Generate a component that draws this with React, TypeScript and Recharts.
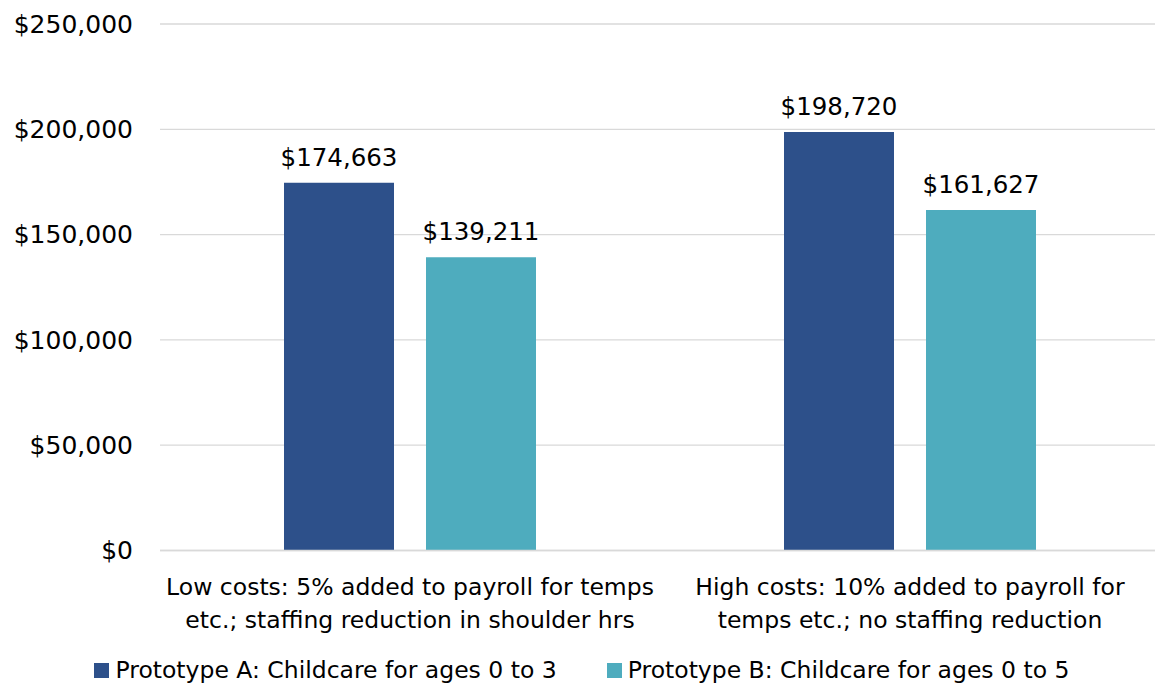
import React from 'react';
import { BarChart, Bar, XAxis, YAxis, CartesianGrid, LabelList, Legend } from 'recharts';

const categoryKeys = ['low', 'high'];
const categoryLines = [
  ['Low costs: 5% added to payroll for temps', 'etc.; staffing reduction in shoulder hrs'],
  ['High costs: 10% added to payroll for', 'temps etc.; no staffing reduction'],
];
const prototypeA = [174663, 198720];
const prototypeB = [139211, 161627];
const yTicks = [0, 50000, 100000, 150000, 200000, 250000];
const seriesNames = ['Prototype A: Childcare for ages 0 to 3', 'Prototype B: Childcare for ages 0 to 5'];
const seriesColors = ['#2D508A', '#4EACBE'];

const data = categoryKeys.map((k, i) => ({ key: k, a: prototypeA[i], b: prototypeB[i], lines: categoryLines[i] }));

const FONT = '"DejaVu Sans", sans-serif';
const fmt = (v: number) => '$' + Number(v).toLocaleString('en-US');

const CategoryTick = (props: any) => {
  const { x, y, index } = props;
  const lines = categoryLines[index] || [];
  return (
    <g>
      {lines.map((ln, i) => (
        <text key={i} x={x} y={y + 44.5 + i * 33} textAnchor="middle" fontFamily={FONT} fontSize={23.5} fill="#000">
          {ln}
        </text>
      ))}
    </g>
  );
};

const renderLegend = () => (
  <div style={{ display: 'flex', justifyContent: 'center', alignItems: 'center', fontFamily: FONT, fontSize: 23.5, color: '#000', whiteSpace: 'nowrap', paddingLeft: 9 }}>
    {seriesNames.map((n, i) => (
      <div key={n} style={{ display: 'flex', alignItems: 'center', marginLeft: i ? 50 : 0 }}>
        <div style={{ width: 15, height: 15, background: seriesColors[i], marginRight: 6 }} />
        <span>{n}</span>
      </div>
    ))}
  </div>
);

export default function App() {
  return (
    <div style={{ position: 'absolute', left: 0, top: 0, width: 1155, height: 686, overflow: 'hidden', background: '#fff' }}>
      <BarChart
        width={1160}
        height={686}
        data={data}
        margin={{ top: 24, right: 0, bottom: 35.5, left: 0 }}
        barSize={110}
        barGap={32}
      >
        <CartesianGrid vertical={false} stroke="#D9D9D9" strokeWidth={1.3} />
        <XAxis
          dataKey="key"
          height={100}
          tickLine={false}
          tickSize={0}
          tickMargin={0}
          axisLine={{ stroke: '#D9D9D9', strokeWidth: 1.3 }}
          tick={<CategoryTick />}
          interval={0}
        />
        <YAxis
          width={160}
          domain={[0, 250000]}
          ticks={yTicks}
          tickFormatter={fmt}
          axisLine={false}
          tickLine={false}
          tickSize={0}
          tickMargin={27}
          tick={{ fontFamily: FONT, fontSize: 25, fill: '#000' }}
        />
        <Legend
          layout="horizontal"
          verticalAlign="middle"
          align="center"
          content={renderLegend}
          wrapperStyle={{ position: 'absolute', top: 656, left: 0, width: 1155 }}
        />
        <Bar dataKey="a" name={seriesNames[0]} fill={seriesColors[0]} isAnimationActive={false}>
          <LabelList dataKey="a" position="top" offset={17} formatter={fmt} style={{ fontFamily: FONT, fontSize: 24.5, fill: '#000' }} />
        </Bar>
        <Bar dataKey="b" name={seriesNames[1]} fill={seriesColors[1]} isAnimationActive={false}>
          <LabelList dataKey="b" position="top" offset={17} formatter={fmt} style={{ fontFamily: FONT, fontSize: 24.5, fill: '#000' }} />
        </Bar>
      </BarChart>
    </div>
  );
}
